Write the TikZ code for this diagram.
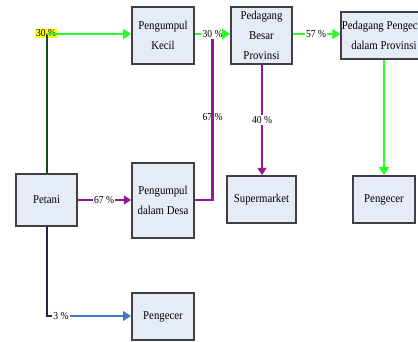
\documentclass[tikz,border=0pt]{standalone}
\usepackage{fontspec}
\setmainfont{Liberation Serif}[FakeStretch=0.9]
\usetikzlibrary{arrows.meta}
\definecolor{boxfill}{RGB}{230,236,247}
\definecolor{boxline}{RGB}{64,64,64}
\definecolor{lgreen}{RGB}{40,255,40}
\definecolor{dgreen}{RGB}{20,75,20}
\definecolor{purp}{RGB}{150,20,150}
\definecolor{navy}{RGB}{30,40,70}
\definecolor{bblue}{RGB}{70,120,200}
\definecolor{hl}{RGB}{255,255,0}
\tikzset{
  box/.style={draw=boxline, line width=1.2pt, fill=boxfill, align=center, inner sep=1pt,
    font=\fontsize{9}{15}\selectfont},
  pct/.style={fill=white, inner sep=0.6pt, font=\fontsize{8}{9}\selectfont},
  garrow/.style={lgreen, line width=2.2pt, -{Triangle[length=6pt,width=7.5pt]}},
  gline/.style={lgreen, line width=2.2pt},
  parrow/.style={purp, line width=1.8pt, -{Triangle[length=5.5pt,width=6.5pt]}},
  pline/.style={purp, line width=1.8pt},
}
\begin{document}
\begin{tikzpicture}[x=0.75pt,y=-0.75pt]
\useasboundingbox (0,0) rectangle (418,342);
\clip (0,0) rectangle (418,342);
% boxes
\node[box, minimum width=45.75pt, minimum height=39pt] (petani) at (46.5,200) {Petani};
\node[box, minimum width=46.5pt, minimum height=42.75pt] (pk) at (163,35.5) {Pengumpul\\Kecil};
\node[box, minimum width=46.5pt, minimum height=56.25pt] (pdd) at (163,200.5) {Pengumpul\\dalam Desa};
\node[box, minimum width=46.5pt, minimum height=35.25pt] (peng1) at (163,316.5) {Pengecer};
\node[box, minimum width=45.75pt, minimum height=42.75pt] (pbp) at (261.5,35.5) {Pedagang\\Besar\\Provinsi};
\node[box, minimum width=51.75pt, minimum height=35.25pt] (sup) at (261.5,199.5) {Supermarket};
\node[box, minimum width=63pt, minimum height=35.25pt, inner sep=0.5pt] (ppp) at (384,35.5) {Pedagang Pengecer\\dalam Provinsi};
\node[box, minimum width=46.5pt, minimum height=35.25pt] (peng2) at (384,199.5) {Pengecer};
% labels
\node[pct, fill=hl] (l30a) at (46,33.5) {30 \%};
\node[pct] (l30b) at (212.5,34) {30 \%};
\node[pct] (l57) at (316,34) {57 \%};
\node[pct] (l67v) at (212.5,117.5) {67 \%};
\node[pct] (l40) at (262,120) {40 \%};
\node[pct] (l67h) at (104,200) {67 \%};
\node[pct] (l3) at (61,316) {3 \%};
\coordinate (j1) at (46.5,34);
\coordinate (j2) at (46.5,316);
\coordinate (j3) at (212.5,200);
% connectors
\draw[dgreen, line width=1.5pt] (petani.north) -- (j1);
\draw[garrow] (j1) -- (j1 -| pk.west);
\draw[gline] (pk.east |- l30b) -- (l30b);
\draw[garrow] (l30b) -- (l30b -| pbp.west);
\draw[pline] (pdd.east |- j3) -- (j3) -- (l30b);
\draw[gline] (pbp.east |- l57) -- (l57);
\draw[garrow] (l57) -- (l57 -| ppp.west);
\draw[garrow] (ppp.south) -- (peng2.north);
\draw[pline] (pbp.south -| l40) -- (l40);
\draw[parrow] (l40) -- (l40 |- sup.north);
\draw[pline] (petani.east) -- (l67h);
\draw[parrow] (l67h) -- (pdd.west |- l67h);
\draw[navy, line width=1.5pt] (petani.south) -- (j2) -- (l3);
\draw[bblue, line width=1.8pt, -{Triangle[length=6pt,width=7pt]}] (l3) -- (l3 -| peng1.west);
\end{tikzpicture}
\end{document}
